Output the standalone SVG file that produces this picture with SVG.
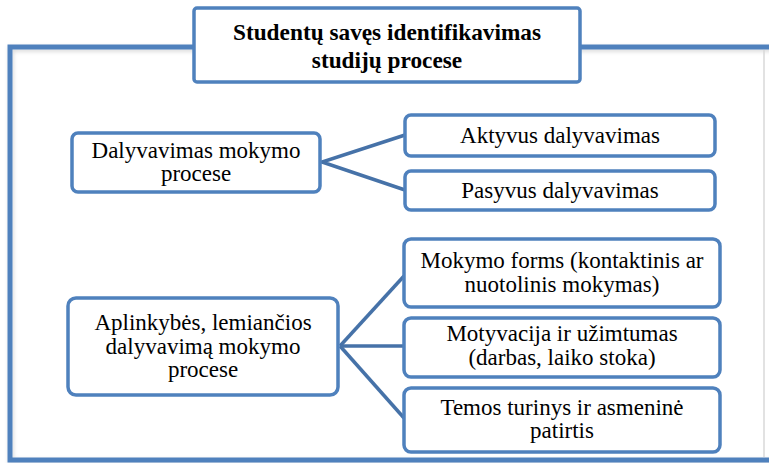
<svg xmlns="http://www.w3.org/2000/svg" width="769" height="463" viewBox="0 0 769 463" font-family="'Liberation Serif', 'DejaVu Serif', serif">
  <defs>
    <filter id="soft" x="-5%" y="-5%" width="110%" height="110%">
      <feGaussianBlur in="SourceAlpha" stdDeviation="2"/>
      <feOffset dx="1" dy="1.5" result="b"/>
      <feFlood flood-color="#000" flood-opacity="0.15"/>
      <feComposite in2="b" operator="in"/>
      <feMerge><feMergeNode/><feMergeNode in="SourceGraphic"/></feMerge>
    </filter>
  </defs>
  <style>
    .frame { fill: none; stroke: #4F81BD; stroke-width: 5; }
    .box { fill: #fff; stroke: #4F81BD; stroke-width: 3.5; }
    .link { fill: none; stroke: #4672A8; stroke-width: 3.5; }
    .lbl { font-family: 'Liberation Serif', 'DejaVu Serif', serif; font-size: 23px; fill: #000; text-anchor: middle; }
    .title { font-weight: bold; font-size: 23.3px; }
  </style>

  <rect width="769" height="463" fill="#fff"/>

  <!-- outer frame, right side runs past the page edge -->
  <g id="frame">
    <rect class="frame" x="10" y="47" width="790" height="413" filter="url(#soft)"/>
    <line x1="764" y1="50" x2="764" y2="457" stroke="#d8d8d8" stroke-width="1.5"/>
  </g>

  <g id="connectors">
    <polyline class="link" points="405,135 322,162 405,190"/>
    <line class="link" x1="340" y1="346" x2="404" y2="276"/>
    <line class="link" x1="340" y1="346" x2="404" y2="346"/>
    <line class="link" x1="340" y1="346" x2="404" y2="418"/>
  </g>

  <g id="title">
    <rect class="box" x="194" y="8" width="386" height="74" rx="3"/>
    <text class="lbl title" x="387" y="40">Studentų savęs identifikavimas</text>
    <text class="lbl title" x="387" y="68">studijų procese</text>
  </g>

  <g id="dalyvavimas">
    <rect class="box" x="72" y="133" width="248" height="59" rx="6"/>
    <text class="lbl" x="196" y="158">Dalyvavimas mokymo</text>
    <text class="lbl" x="196" y="181">procese</text>
  </g>

  <g id="aktyvus">
    <rect class="box" x="405" y="115" width="310" height="41" rx="6"/>
    <text class="lbl" x="560" y="143">Aktyvus dalyvavimas</text>
  </g>

  <g id="pasyvus">
    <rect class="box" x="405" y="171" width="310" height="39" rx="6"/>
    <text class="lbl" x="560" y="198">Pasyvus dalyvavimas</text>
  </g>

  <g id="aplinkybes">
    <rect class="box" x="68" y="298" width="270" height="97" rx="8"/>
    <text class="lbl" x="203" y="330">Aplinkybės, lemiančios</text>
    <text class="lbl" x="203" y="354">dalyvavimą mokymo</text>
    <text class="lbl" x="203" y="377">procese</text>
  </g>

  <g id="mokymo-forms">
    <rect class="box" x="404" y="239" width="316" height="68" rx="7"/>
    <text class="lbl" x="562" y="268">Mokymo forms (kontaktinis ar</text>
    <text class="lbl" x="562" y="292">nuotolinis mokymas)</text>
  </g>

  <g id="motyvacija">
    <rect class="box" x="404" y="318" width="316" height="59" rx="7"/>
    <text class="lbl" x="562" y="341">Motyvacija ir užimtumas</text>
    <text class="lbl" x="562" y="365">(darbas, laiko stoka)</text>
  </g>

  <g id="temos">
    <rect class="box" x="404" y="388" width="316" height="64" rx="7"/>
    <text class="lbl" x="562" y="415">Temos turinys ir asmeninė</text>
    <text class="lbl" x="562" y="438">patirtis</text>
  </g>
</svg>
